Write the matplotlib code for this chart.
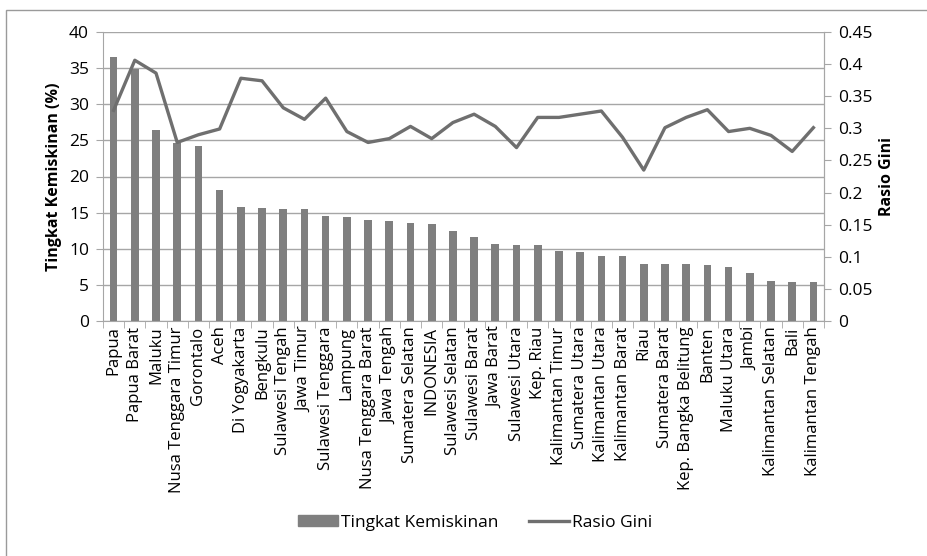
import numpy as np
import matplotlib
matplotlib.use("Agg")
import matplotlib.pyplot as plt
from matplotlib.patches import Rectangle
from matplotlib.lines import Line2D
from matplotlib.patches import Patch

provinsi = ["Papua", "Papua Barat", "Maluku", "Nusa Tenggara Timur", "Gorontalo", "Aceh",
            "Di Yogyakarta", "Bengkulu", "Sulawesi Tengah", "Jawa Timur", "Sulawesi Tenggara",
            "Lampung", "Nusa Tenggara Barat", "Jawa Tengah", "Sumatera Selatan", "INDONESIA",
            "Sulawesi Selatan", "Sulawesi Barat", "Jawa Barat", "Sulawesi Utara", "Kep. Riau",
            "Kalimantan Timur", "Sumatera Utara", "Kalimantan Utara", "Kalimantan Barat", "Riau",
            "Sumatera Barat", "Kep. Bangka Belitung", "Banten", "Maluku Utara", "Jambi",
            "Kalimantan Selatan", "Bali", "Kalimantan Tengah"]
kemiskinan = [36.5, 34.9, 26.5, 24.6, 24.2, 18.2, 15.8, 15.7, 15.5, 15.5, 14.6,
              14.4, 14.0, 13.9, 13.5, 13.4, 12.5, 11.6, 10.6, 10.45, 10.45,
              9.7, 9.5, 9.05, 9.05, 7.9, 7.9, 7.9, 7.8, 7.45, 6.65,
              5.5, 5.4, 5.4]
gini = [0.328, 0.406, 0.386, 0.278, 0.290, 0.299, 0.378, 0.374, 0.332, 0.314, 0.347,
        0.295, 0.278, 0.284, 0.303, 0.284, 0.309, 0.322, 0.303, 0.270, 0.317,
        0.317, 0.322, 0.327, 0.286, 0.235, 0.301, 0.317, 0.329, 0.295, 0.300,
        0.289, 0.264, 0.301]

plt.rcParams["font.family"] = ["Open Sans", "DejaVu Sans"]
BAR = "#7f7f7f"
LINE = "#6f6f6f"
GRID = "#a6a6a6"

fig = plt.figure(figsize=(9.28, 5.56), dpi=100)
ax = fig.add_axes([103 / 928, 1 - 321 / 556, 721 / 928, 289 / 556])
x = np.arange(len(provinsi))

ax.bar(x, kemiskinan, width=0.36, color=BAR, zorder=2)
ax.set_xlim(-0.5, len(provinsi) - 0.5)
ax.set_ylim(0, 40)
ax.set_yticks(np.arange(0, 41, 5))
ax.yaxis.grid(True, color=GRID, lw=1)
ax.set_axisbelow(True)
ax.set_xticks(x)
ax.set_xticklabels(provinsi, rotation=90, fontsize=12)
ax.set_xticks(np.arange(-0.5, len(provinsi)), minor=True)
ax.tick_params(axis="x", which="major", length=0, pad=4)
ax.tick_params(axis="x", which="minor", length=5, color=GRID, direction="out")
ax.tick_params(axis="y", labelsize=12.5, length=5, color=GRID, pad=5)
ax.spines["top"].set_visible(False)
for s in ["left", "bottom", "right"]:
    ax.spines[s].set_color(GRID)
ax.set_ylabel("Tingkat Kemiskinan (%)", fontsize=11.5, fontweight="bold", labelpad=5)

ax2 = ax.twinx()
ax2.plot(x, gini, color=LINE, lw=2.4, zorder=3)
ax2.set_ylim(0, 0.45)
ax2.set_yticks(np.arange(0, 0.451, 0.05))
ax2.set_yticklabels(["0", "0.05", "0.1", "0.15", "0.2", "0.25", "0.3", "0.35", "0.4", "0.45"])
ax2.tick_params(axis="y", labelsize=12.5, length=5, color=GRID, pad=5)
for s in ["top", "left", "bottom"]:
    ax2.spines[s].set_visible(False)
ax2.spines["right"].set_color(GRID)
ax2.set_ylabel("Rasio Gini", fontsize=11.5, fontweight="bold", labelpad=5)

handles = [Patch(color=BAR), Line2D([0], [0], color=LINE, lw=2.4)]
fig.legend(handles, ["Tingkat Kemiskinan", "Rasio Gini"], loc="center",
           bbox_to_anchor=(475 / 928, 1 - 523 / 556), ncol=2, frameon=False,
           fontsize=12.5, handlelength=2.3, handleheight=0.6, handletextpad=0.15,
           columnspacing=1.8)

fig.patches.append(Rectangle((6 / 928, -0.1), 1.2, 1 - 10 / 556 + 0.1, transform=fig.transFigure,
                             fill=False, edgecolor="#9a9a9a", lw=1))

plt.savefig("out.png", dpi=100)
